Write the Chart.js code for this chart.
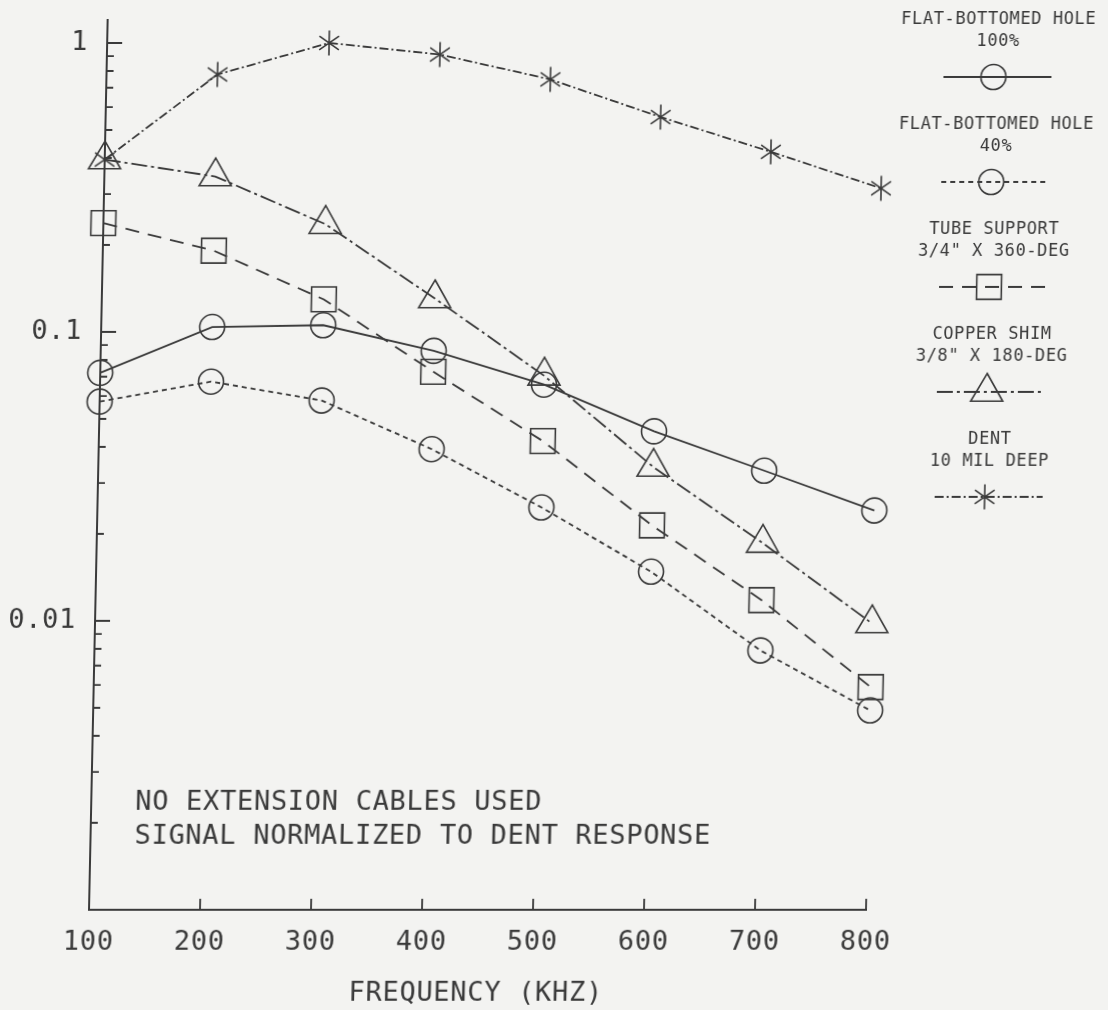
<!DOCTYPE html>
<html>
<head>
<meta charset="utf-8">
<title>Normalized signal vs frequency</title>
<script src="https://cdn.jsdelivr.net/npm/chart.js@4.4.1/dist/chart.umd.min.js"></script>
<style>
  html, body { margin: 0; padding: 0; background: #f3f3f1; }
  #wrap { width: 1108px; height: 1010px; overflow: hidden; }
  /* the scanned plot is slightly sheared, top leaning right */
  canvas { display: block; transform: skewX(-1.2deg); transform-origin: 0 910px; }
</style>
</head>
<body>
<div id="wrap"><canvas id="chart" width="1108" height="1010"></canvas></div>
<script>
const freqs = [100, 200, 300, 400, 500, 600, 700, 800];
const fbh100 = [0.0722, 0.104, 0.1055, 0.086, 0.0657, 0.0453, 0.0331, 0.0241];
const fbh40 = [0.0574, 0.0673, 0.0579, 0.0393, 0.0247, 0.0148, 0.0079, 0.0049];
const tubeSupport = [0.238, 0.191, 0.1296, 0.0728, 0.0419, 0.0214, 0.0118, 0.0059];
const copperShim = [0.395, 0.345, 0.236, 0.1306, 0.0705, 0.0341, 0.0186, 0.0098];
const dent = [0.395, 0.778, 1.0, 0.912, 0.748, 0.554, 0.42, 0.314];

const xTicks = [100, 200, 300, 400, 500, 600, 700, 800];
const xTickLabels = ['100', '200', '300', '400', '500', '600', '700', '800'];
const yTicks = [0.01, 0.1, 1];
const yTickLabels = ['0.01', '0.1', '1'];
const legendText = [
  ['FLAT-BOTTOMED HOLE', '100%'],
  ['FLAT-BOTTOMED HOLE', '40%'],
  ['TUBE SUPPORT', '3/4" X 360-DEG'],
  ['COPPER SHIM', '3/8" X 180-DEG'],
  ['DENT', '10 MIL DEEP'],
];
const notes = ['NO EXTENSION CABLES USED', 'SIGNAL NORMALIZED TO DENT RESPONSE'];

const ink = '#3a3a3a';
const mono = '"DejaVu Sans Mono", monospace';

const asterisk = (() => {
  const c = document.createElement('canvas'); c.width = 28; c.height = 28;
  const g = c.getContext('2d');
  const dx = 12 * Math.cos(Math.PI * 35 / 180), dy = 12 * Math.sin(Math.PI * 35 / 180);
  g.strokeStyle = ink; g.lineWidth = 1.6;
  g.beginPath();
  g.moveTo(14, 1.5); g.lineTo(14, 26.5);
  g.moveTo(14 - dx, 14 - dy); g.lineTo(14 + dx, 14 + dy);
  g.moveTo(14 - dx, 14 + dy); g.lineTo(14 + dx, 14 - dy);
  g.stroke();
  return c;
})();

const series = [
  { data: fbh100, dash: [], point: 'circle', r: 12.5 },
  { data: fbh40, dash: [5, 4], point: 'circle', r: 12.5 },
  { data: tubeSupport, dash: [14, 9], point: 'rect', r: 17.5 },
  { data: copperShim, dash: [16, 4, 3, 4], point: 'triangle', r: 18.5 },
  { data: dent, dash: [9, 3, 2, 3], point: asterisk, r: 14 },
];

const drawMarker = (ctx, s, x, y) => {
  if (s.point instanceof HTMLCanvasElement) { ctx.drawImage(s.point, x - s.point.width / 2, y - s.point.height / 2); return; }
  ctx.beginPath();
  if (s.point === 'circle') ctx.arc(x, y, s.r, 0, Math.PI * 2);
  else if (s.point === 'rect') { const h = s.r * Math.SQRT1_2; ctx.rect(x - h, y - h, 2 * h, 2 * h); }
  else { ctx.moveTo(x, y - s.r); ctx.lineTo(x + s.r * 0.866, y + s.r / 2); ctx.lineTo(x - s.r * 0.866, y + s.r / 2); ctx.closePath(); }
  ctx.stroke();
};

const spacing = {
  id: 'spacing',
  beforeUpdate(chart) { chart.ctx.letterSpacing = '0.7px'; },
  beforeDraw(chart) { chart.ctx.letterSpacing = '0.7px'; },
};

const axisTicks = {
  id: 'axisTicks',
  afterDraw(chart) {
    const { ctx, chartArea: a, scales: { x, y } } = chart;
    ctx.save();
    ctx.strokeStyle = ink; ctx.lineWidth = 1.8; ctx.setLineDash([]);
    ctx.beginPath();
    for (let e = -3; e <= 0; e++) for (let m = 1; m <= 9; m++) {
      const v = m * Math.pow(10, e);
      if (v <= y.min * 1.001 || v > y.max) continue;
      const py = y.getPixelForValue(v);
      ctx.moveTo(a.left, py); ctx.lineTo(a.left + (m === 1 ? 15 : 7), py);
    }
    xTicks.slice(1).forEach(f => {
      const px = x.getPixelForValue(f);
      ctx.moveTo(px, a.bottom); ctx.lineTo(px, a.bottom - 11);
    });
    ctx.stroke();
    ctx.restore();
  }
};

const annotations = {
  id: 'annotations',
  afterDraw(chart) {
    const { ctx } = chart;
    ctx.save();
    ctx.fillStyle = ink; ctx.strokeStyle = ink;
    ctx.textBaseline = 'middle';
    ctx.font = `27px ${mono}`; ctx.letterSpacing = '0.7px'; ctx.textAlign = 'left';
    notes.forEach((t, i) => ctx.fillText(t, 133, 803 + i * 34));

    const cx = 980;
    ctx.font = `17px ${mono}`; ctx.letterSpacing = '0.6px'; ctx.textAlign = 'center';
    legendText.forEach((lines, i) => {
      const y0 = 20 + i * 105;
      ctx.fillText(lines[0], cx, y0);
      ctx.fillText(lines[1], cx, y0 + 22);
      const s = series[i], ly = y0 + 57;
      ctx.lineWidth = 1.8; ctx.setLineDash(s.dash);
      ctx.beginPath(); ctx.moveTo(cx - 54, ly); ctx.lineTo(cx + 54, ly); ctx.stroke();
      ctx.setLineDash([]); ctx.lineWidth = 1.6;
      drawMarker(ctx, s, cx - 4, ly);
    });
    ctx.restore();
  }
};

const tickFont = { family: mono, size: 27, lineHeight: 1.2 };

new Chart(document.getElementById('chart'), {
  type: 'line',
  data: {
    datasets: series.map((s, i) => ({
      label: legendText[i].join(' '),
      data: freqs.map((f, j) => ({ x: f, y: s.data[j] })),
      borderColor: ink,
      borderWidth: 1.8,
      borderDash: s.dash,
      fill: false,
      tension: 0,
      clip: false,
      pointStyle: s.point,
      pointRadius: s.r,
      pointBorderColor: ink,
      pointBorderWidth: 1.6,
      pointBackgroundColor: 'rgba(0,0,0,0)',
    })),
  },
  options: {
    responsive: false,
    animation: false,
    events: [],
    layout: { padding: { top: 12, right: 242, left: 0, bottom: 0 } },
    plugins: { legend: { display: false }, tooltip: { enabled: false } },
    scales: {
      x: {
        type: 'linear', min: 100, max: 800,
        grid: { display: false, drawTicks: false },
        border: { display: true, color: ink, width: 2 },
        afterBuildTicks: (s) => { s.ticks = xTicks.map(v => ({ value: v })); },
        afterFit: (s) => { s.height = 100; s.paddingLeft = 0; s.paddingRight = 0; },
        ticks: {
          color: ink, font: tickFont, padding: 17, autoSkip: false, maxRotation: 0,
          callback: (v) => xTickLabels[xTicks.indexOf(v)] ?? '',
        },
        title: { display: true, text: 'FREQUENCY (KHZ)', color: ink, font: tickFont, padding: { top: 0, bottom: 0 } },
      },
      y: {
        type: 'logarithmic', min: 0.001, max: 1.2,
        grid: { display: false, drawTicks: false },
        border: { display: true, color: ink, width: 2 },
        afterBuildTicks: (s) => { s.ticks = yTicks.map(v => ({ value: v })); },
        afterFit: (s) => { s.width = 89; s.paddingTop = 0; s.paddingBottom = 0; },
        ticks: {
          color: ink, font: tickFont, padding: 19, autoSkip: false,
          callback: (v) => yTickLabels[yTicks.indexOf(v)] ?? '',
        },
      },
    },
  },
  plugins: [spacing, axisTicks, annotations],
});
</script>
</body>
</html>
